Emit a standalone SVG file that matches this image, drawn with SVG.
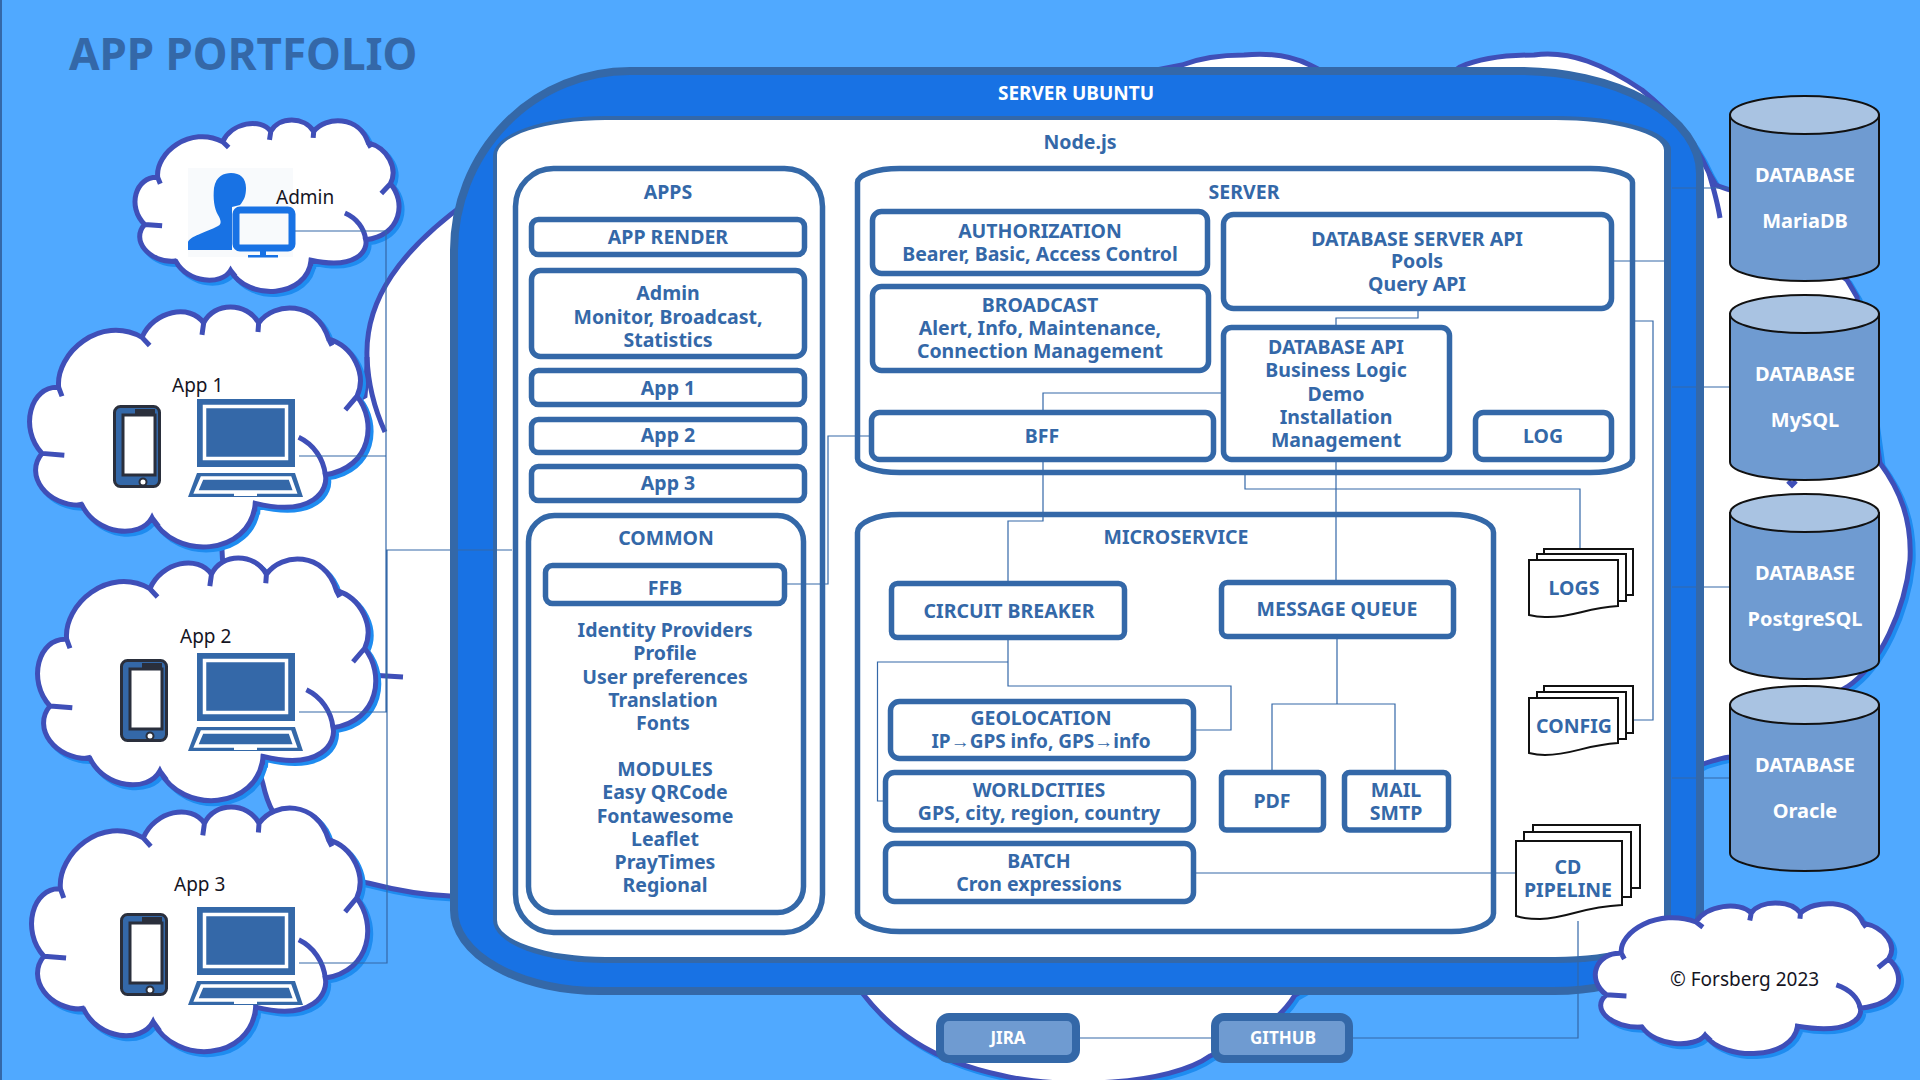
<svg xmlns="http://www.w3.org/2000/svg" width="1920" height="1080" viewBox="0 0 1920 1080">
<style>
text{font-family:"Noto Sans","Open Sans","Liberation Sans",sans-serif}
.t{font-size:19.5px;font-weight:700;fill:#3468A8;text-anchor:middle}
.w{font-size:19px;font-weight:700;fill:#fff;text-anchor:middle}
.d{font-size:20px;font-weight:700;fill:#fff;text-anchor:middle}
.k{font-size:19px;fill:#15151f}
.b{fill:#fff;stroke:#3468A8;stroke-width:5.5}
.ln{fill:none;stroke:#3468A8;stroke-width:1.2}
.cl{fill:#fff;stroke:#3F4FB8;stroke-width:5}
.sh{fill:#1E8CF0;stroke:#1E8CF0;stroke-width:5}
.db{fill:#6F9BD1;stroke:#111;stroke-width:2}
.dt{fill:#A9C3E2;stroke:#111;stroke-width:2}
.pg{fill:#fff;stroke:#111;stroke-width:2}
.lap{fill:#3468A8}
.lw{fill:none;stroke:#fff;stroke-width:3.5}
.j{fill:#6F9BD1;stroke:#3468A8;stroke-width:8}
</style>
<defs>
<path id="cloud" vector-effect="non-scaling-stroke" d="M95,225C85,130 220,20 345,85C380,10 490,-10 530,45C560,-15 660,-15 695,45C740,-15 870,-20 905,90C980,110 1020,190 990,250C1050,320 1035,450 895,470C905,510 860,590 685,550C670,700 440,710 375,590C340,650 210,640 165,555C60,560 -10,470 45,410C-25,340 10,220 95,225ZM95,225L105,250M345,85L368,108M530,45L525,78M695,45L693,70M905,90L915,108M990,250L955,288M815,365C860,385 890,425 895,470M683,572L685,545M375,590L395,615M150,555L168,552M45,410L112,415"/>
<g id="phone"><rect x="1.5" y="1.5" width="45" height="80" rx="6" fill="#3468A8" stroke="#2A2F3C" stroke-width="3"/><rect x="10" y="10" width="32" height="60" fill="#fff" stroke="#2A2F3C" stroke-width="3"/><rect x="22" y="4" width="20" height="6" fill="#2A2F3C"/><circle cx="30" cy="77" r="3.5" fill="#fff" stroke="#2A2F3C" stroke-width="2"/></g>
<g id="laptop"><rect class="lap" x="9" y="0" width="98" height="68"/><rect class="lw" x="16.5" y="7.5" width="82" height="52"/><path class="lap" d="M9,74H107L115,98H0Z"/><path class="lw" d="M14,79H102L107,93H8Z"/><rect x="46" y="93" width="23" height="4" fill="#fff"/></g>
</defs>
<rect width="1920" height="1080" fill="#50A9FF"/>
<rect width="2" height="1080" fill="#3468A8"/>

<g id="backdrop-cloud">
<path d="M470,200C400,250 365,300 367,357C367,370 366,385 365,396C300,430 230,480 222,550C222,560 223,563 224,567C226,640 250,740 263,784C265,793 268,803 273,812C285,850 320,875 368,883C395,890 420,895 450,896L860,990C890,1030 930,1060 1000,1075C1060,1090 1170,1085 1210,1056C1250,1040 1280,1020 1295,995L1680,780C1690,772 1700,765 1706,763C1715,760 1722,758 1730,757L1847,687C1880,665 1905,610 1910,560C1912,520 1900,490 1880,463L1857,297L1847,280L1730,190C1725,188 1720,187 1716,185L1709,173C1690,130 1660,105 1642,90C1605,65 1570,50 1534,55C1505,55 1480,58 1460,67L1400,110L1310,65C1290,55 1265,53 1244,55C1220,55 1200,58 1182,65L900,120Z" fill="#1E8CF0" stroke="#1E8CF0" stroke-width="5" transform="translate(3,3)"/>
<path d="M470,200C400,250 365,300 367,357C367,370 366,385 365,396C300,430 230,480 222,550C222,560 223,563 224,567C226,640 250,740 263,784C265,793 268,803 273,812C285,850 320,875 368,883C395,890 420,895 450,896L860,990C890,1030 930,1060 1000,1075C1060,1090 1170,1085 1210,1056C1250,1040 1280,1020 1295,995L1680,780C1690,772 1700,765 1706,763C1715,760 1722,758 1730,757L1847,687C1880,665 1905,610 1910,560C1912,520 1900,490 1880,463L1857,297L1847,280L1730,190C1725,188 1720,187 1716,185L1709,173C1690,130 1660,105 1642,90C1605,65 1570,50 1534,55C1505,55 1480,58 1460,67L1400,110L1310,65C1290,55 1265,53 1244,55C1220,55 1200,58 1182,65L900,120Z" class="cl"/>
<path d="M367,357C368,385 375,410 385,432M370,675L403,677M1709,173C1714,190 1718,205 1720,218M1788,481L1792,485L1796,481" fill="none" stroke="#3F4FB8" stroke-width="5"/>
</g>

<g id="server-ubuntu">
<path d="M454,250A176,180 0 0 1 630,71H1518A182,102 0 0 1 1700,173V910A146,81 0 0 1 1554,991H600A146,81 0 0 1 454,910Z" fill="#1872E4" stroke="#3468A8" stroke-width="8"/>
<path d="M493,156A113,40 0 0 1 606,116H1558A113,34 0 0 1 1671,150V925A113,38 0 0 1 1558,963H606A113,43 0 0 1 493,920Z" fill="#3468A8"/>
<path d="M497,155A110,35 0 0 1 606,120H1555A110,30 0 0 1 1664,150V925A110,32 0 0 1 1555,957H606A110,37 0 0 1 497,920Z" fill="#fff"/>
<text class="w" x="1076" y="100">SERVER UBUNTU</text>
<text class="t" x="1080" y="149">Node.js</text>
</g>

<g id="admin">
<use href="#cloud" class="sh" transform="translate(136,123) scale(.26,.255)"/>
<use href="#cloud" class="cl" transform="translate(133,120) scale(.26,.255)"/>
<rect x="188" y="168" width="105" height="89" fill="#F8FAFC"/>
<path d="M188,250V242C190,236 205,233 218,226C222,224 221,220 218,215C214,208 213,198 214,188C216,176 224,173 231,173C240,173 246,178 246,188C246,196 244,200 240,205L232,207V250Z" fill="#1872E4"/>
<rect x="236" y="210" width="56" height="38" rx="4" fill="#F8FAFC" stroke="#1872E4" stroke-width="7"/>
<rect x="260" y="250" width="6" height="5" fill="#1872E4"/>
<rect x="248" y="255" width="30" height="2.5" fill="#1872E4"/>
<text class="k" x="276" y="204">Admin</text>
</g>

<g id="app1">
<use href="#cloud" class="sh" transform="translate(30,310) scale(.3333,.357)"/>
<use href="#cloud" class="cl" transform="translate(27,307) scale(.3333,.357)"/>
<use href="#phone" transform="translate(113,405)"/>
<use href="#laptop" transform="translate(188,399)"/>
<text class="k" x="172" y="392">App 1</text>
</g>
<g id="app2">
<use href="#cloud" class="sh" transform="translate(38,561) scale(.333,.361)"/>
<use href="#cloud" class="cl" transform="translate(35,558) scale(.333,.361)"/>
<use href="#phone" transform="translate(120,659)"/>
<use href="#laptop" transform="translate(188,653)"/>
<text class="k" x="180" y="643">App 2</text>
</g>
<g id="app3">
<use href="#cloud" class="sh" transform="translate(32,810) scale(.331,.364)"/>
<use href="#cloud" class="cl" transform="translate(29,807) scale(.331,.364)"/>
<use href="#phone" transform="translate(120,913)"/>
<use href="#laptop" transform="translate(188,907)"/>
<text class="k" x="174" y="891">App 3</text>
</g>

<g id="copyright">
<use href="#cloud" class="sh" transform="translate(1596,906) scale(.2986,.224)"/>
<use href="#cloud" class="cl" transform="translate(1593,903) scale(.2986,.224)"/>
<text class="k" x="1670" y="986">© Forsberg 2023</text>
</g>

<text id="title" x="69" y="70" font-size="44" font-weight="700" fill="#3468A8">APP PORTFOLIO</text>

<g id="connectors" class="ln">
<path d="M295,231H386V712H299M299,456H386M299,963H387V550H512"/>
<path d="M1418,311V318H1336V325M1222,393H1043V410M1043,462V521H1008V581M1336,462V580"/>
<path d="M1245,475V489H1580V549M1614,261H1664M1633,720H1653V321H1635"/>
<path d="M787,584H828V436H869"/>
<path d="M1008,640V686H1231V730H1196M1008,662H877.5V801H883"/>
<path d="M1337,639V704M1272,770V704H1395V770"/>
<path d="M1196,873H1516M1578,921V1038H1353M1080,1038H1211"/>
<path d="M1672,188H1730M1672,387H1730M1672,587H1730M1672,778H1730"/>
</g>

<g id="apps">
<rect x="515.5" y="168.5" width="307" height="764" rx="38" fill="none" stroke="#3468A8" stroke-width="5.5"/>
<text class="t" x="668" y="199">APPS</text>
</g>
<g id="app-render"><rect class="b" x="531.5" y="219.5" width="273" height="35" rx="7"/><text class="t" x="668" y="244">APP RENDER</text></g>
<g id="apps-admin"><rect class="b" x="531.5" y="270.5" width="273" height="86" rx="9"/><text class="t"><tspan x="668" y="300">Admin</tspan><tspan x="668" y="324">Monitor, Broadcast,</tspan><tspan x="668" y="347">Statistics</tspan></text></g>
<g id="apps-app1"><rect class="b" x="531.5" y="370.5" width="273" height="34" rx="7"/><text class="t" x="668" y="395">App 1</text></g>
<g id="apps-app2"><rect class="b" x="531.5" y="419.5" width="273" height="33" rx="7"/><text class="t" x="668" y="442">App 2</text></g>
<g id="apps-app3"><rect class="b" x="531.5" y="466.5" width="273" height="34" rx="7"/><text class="t" x="668" y="490">App 3</text></g>
<g id="common">
<rect x="528.5" y="515.5" width="275" height="397" rx="26" fill="none" stroke="#3468A8" stroke-width="5.5"/>
<text class="t" x="666" y="545">COMMON</text>
<text class="t"><tspan x="665" y="637">Identity Providers</tspan><tspan x="665" y="660">Profile</tspan><tspan x="665" y="684">User preferences</tspan><tspan x="663" y="707">Translation</tspan><tspan x="663" y="730">Fonts</tspan><tspan x="665" y="776">MODULES</tspan><tspan x="665" y="799">Easy QRCode</tspan><tspan x="665" y="823">Fontawesome</tspan><tspan x="665" y="846">Leaflet</tspan><tspan x="665" y="869">PrayTimes</tspan><tspan x="665" y="892">Regional</tspan></text>
</g>
<g id="ffb"><rect class="b" x="545.5" y="565.5" width="239" height="38" rx="7"/><text class="t" x="665" y="595">FFB</text></g>

<g id="server">
<rect x="857.5" y="168.5" width="775" height="304" rx="42" ry="14" fill="none" stroke="#3468A8" stroke-width="5.5"/>
<text class="t" x="1244" y="199">SERVER</text>
</g>
<g id="authorization"><rect class="b" x="872.5" y="211.5" width="335" height="62" rx="9"/><text class="t"><tspan x="1040" y="238">AUTHORIZATION</tspan><tspan x="1040" y="261">Bearer, Basic, Access Control</tspan></text></g>
<g id="broadcast"><rect class="b" x="872.5" y="286.5" width="336" height="84" rx="9"/><text class="t"><tspan x="1040" y="312">BROADCAST</tspan><tspan x="1040" y="335">Alert, Info, Maintenance,</tspan><tspan x="1040" y="358">Connection Management</tspan></text></g>
<g id="database-server-api"><rect class="b" x="1223.5" y="214.5" width="388" height="94" rx="10"/><text class="t"><tspan x="1417" y="246">DATABASE SERVER API</tspan><tspan x="1417" y="268">Pools</tspan><tspan x="1417" y="291">Query API</tspan></text></g>
<g id="database-api"><rect class="b" x="1223.5" y="327.5" width="226" height="132" rx="8"/><text class="t"><tspan x="1336" y="354">DATABASE API</tspan><tspan x="1336" y="377">Business Logic</tspan><tspan x="1336" y="401">Demo</tspan><tspan x="1336" y="424">Installation</tspan><tspan x="1336" y="447">Management</tspan></text></g>
<g id="bff"><rect class="b" x="871.5" y="412.5" width="342" height="47" rx="8"/><text class="t" x="1042" y="443">BFF</text></g>
<g id="log"><rect class="b" x="1475.5" y="412.5" width="136" height="47" rx="8"/><text class="t" x="1543" y="443">LOG</text></g>

<g id="microservice">
<rect x="857.5" y="514.5" width="636" height="417" rx="42" ry="18" fill="none" stroke="#3468A8" stroke-width="5.5"/>
<text class="t" x="1176" y="544">MICROSERVICE</text>
</g>
<g id="circuit-breaker"><rect class="b" x="891.5" y="583.5" width="233" height="54" rx="6"/><text class="t" x="1009" y="617.5">CIRCUIT BREAKER</text></g>
<g id="message-queue"><rect class="b" x="1221.5" y="582.5" width="232" height="54" rx="6"/><text class="t" x="1337" y="616">MESSAGE QUEUE</text></g>
<g id="geolocation"><rect class="b" x="890.5" y="701.5" width="303" height="57" rx="9"/><text class="t"><tspan x="1041" y="725">GEOLOCATION</tspan><tspan x="1041" y="748" style="font-size:19px">IP→GPS info, GPS→info</tspan></text></g>
<g id="worldcities"><rect class="b" x="885.5" y="772.5" width="308" height="57.5" rx="9"/><text class="t"><tspan x="1039" y="797">WORLDCITIES</tspan><tspan x="1039" y="820">GPS, city, region, country</tspan></text></g>
<g id="batch"><rect class="b" x="885.5" y="843.5" width="308" height="58" rx="9"/><text class="t"><tspan x="1039" y="868">BATCH</tspan><tspan x="1039" y="891">Cron expressions</tspan></text></g>
<g id="pdf"><rect class="b" x="1221.5" y="772.5" width="102" height="57.5" rx="5"/><text class="t" x="1272" y="807.5">PDF</text></g>
<g id="mail"><rect class="b" x="1344.5" y="772.5" width="104" height="57.5" rx="5"/><text class="t"><tspan x="1396" y="797">MAIL</tspan><tspan x="1396" y="820">SMTP</tspan></text></g>

<g id="logs">
<rect class="pg" x="1544" y="549" width="89" height="46"/><rect class="pg" x="1537" y="554" width="89" height="47"/>
<path class="pg" d="M1529,560H1618V606C1585,608 1572,618 1545,617C1538,617 1533,616 1529,615Z"/>
<text class="t" x="1574" y="595">LOGS</text>
</g>
<g id="config">
<rect class="pg" x="1544" y="686" width="89" height="47"/><rect class="pg" x="1537" y="692" width="89" height="47"/>
<path class="pg" d="M1529,698H1618V743C1585,745 1572,755 1545,755C1538,755 1533,754 1529,753Z"/>
<text class="t" x="1574" y="733">CONFIG</text>
</g>
<g id="cd-pipeline">
<rect class="pg" x="1533" y="825" width="107" height="63"/><rect class="pg" x="1524" y="832" width="107" height="65"/>
<path class="pg" d="M1516,841H1622V905C1580,907 1570,918 1540,919C1530,919 1522,918 1516,916Z"/>
<text class="t"><tspan x="1568" y="874">CD</tspan><tspan x="1568" y="897">PIPELINE</tspan></text>
</g>

<g id="jira"><rect class="j" x="940" y="1017" width="136" height="42" rx="9"/><text class="w" x="1008" y="1044" style="font-size:17px">JIRA</text></g>
<g id="github"><rect class="j" x="1215" y="1017" width="134" height="42" rx="9"/><text class="w" x="1283" y="1044" style="font-size:17px">GITHUB</text></g>

<g id="db-mariadb"><path class="db" d="M1730,115V263A74.5,18 0 0 0 1879,263V115Z"/><ellipse class="dt" cx="1804.5" cy="115" rx="74.5" ry="19"/><text class="d" x="1805" y="182">DATABASE</text><text class="d" x="1805" y="228">MariaDB</text></g>
<g id="db-mysql"><path class="db" d="M1730,314V462A74.5,18 0 0 0 1879,462V314Z"/><ellipse class="dt" cx="1804.5" cy="314" rx="74.5" ry="19"/><text class="d" x="1805" y="381">DATABASE</text><text class="d" x="1805" y="427">MySQL</text></g>
<g id="db-postgresql"><path class="db" d="M1730,513V661A74.5,18 0 0 0 1879,661V513Z"/><ellipse class="dt" cx="1804.5" cy="513" rx="74.5" ry="19"/><text class="d" x="1805" y="580">DATABASE</text><text class="d" x="1805" y="626">PostgreSQL</text></g>
<g id="db-oracle"><path class="db" d="M1730,705V853A74.5,18 0 0 0 1879,853V705Z"/><ellipse class="dt" cx="1804.5" cy="705" rx="74.5" ry="19"/><text class="d" x="1805" y="772">DATABASE</text><text class="d" x="1805" y="818">Oracle</text></g>
</svg>
